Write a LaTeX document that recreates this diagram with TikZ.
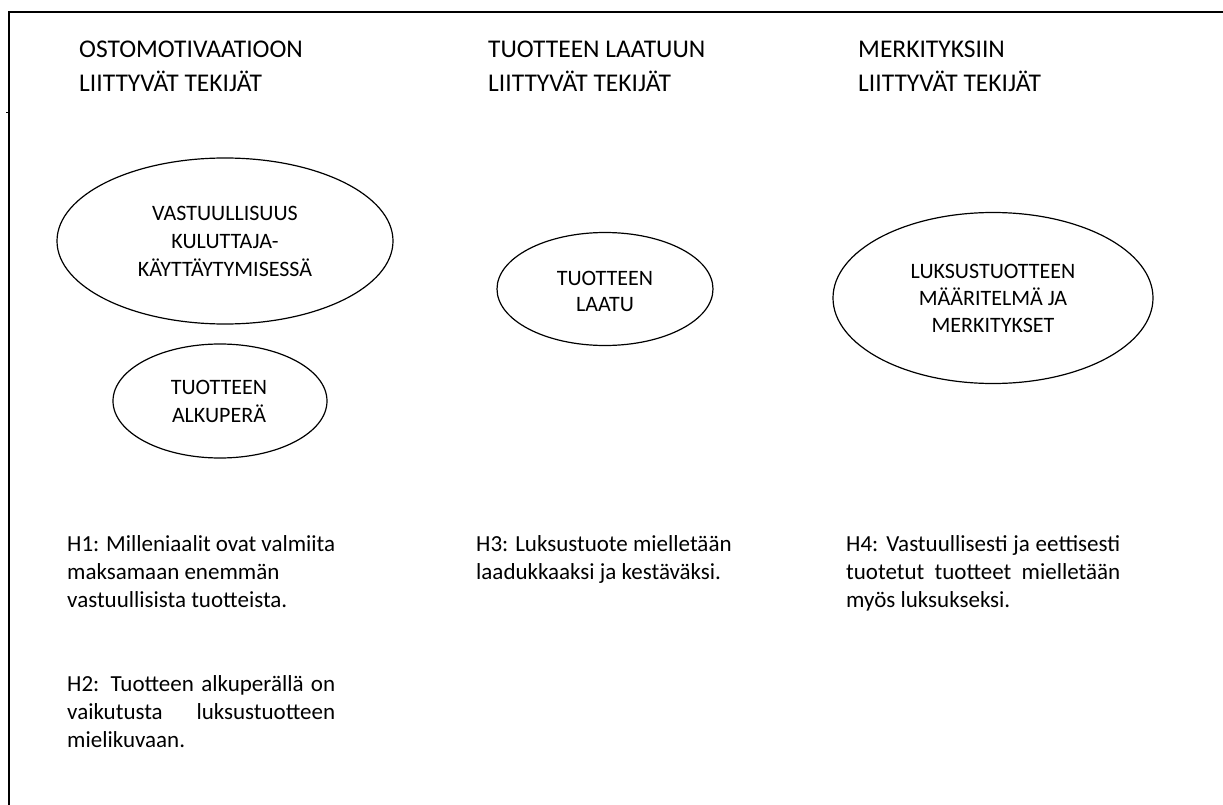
\documentclass[tikz,border=0pt]{standalone}
\usepackage{fontspec}
\setmainfont{Carlito}
\usetikzlibrary{shapes.geometric}
\tikzset{
  ell/.style={draw, ellipse, line width=1.2pt, inner sep=0pt},
  head/.style={anchor=base west, inner sep=0pt, font=\fontsize{25.5}{30}\selectfont},
  etext/.style={anchor=base, inner sep=0pt, font=\fontsize{22}{27}\selectfont},
  body/.style={anchor=base west, inner sep=0pt, font=\fontsize{23}{28}\selectfont},
}
\newcommand{\jline}[2]{\makebox[#1][s]{#2}}
\begin{document}
\begin{tikzpicture}[x=1pt,y=-1pt]
\useasboundingbox (0,0) rectangle (1223,805);
% frame (partly cut off)
\draw[line width=1.4pt] (9,805) -- (9,12) -- (1223,12);
\draw[line width=1pt] (6,113) -- (9,113);
% headings
\node[head] (h1a) at (79,58) {OSTOMOTIVAATIOON};
\node[head] (h1b) at (79,92) {LIITTYVÄT TEKIJÄT};
\node[head] (h2a) at (488,58) {TUOTTEEN LAATUUN};
\node[head] (h2b) at (488,92) {LIITTYVÄT TEKIJÄT};
\node[head] (h3a) at (858,58) {MERKITYKSIIN};
\node[head] (h3b) at (858,92) {LIITTYVÄT TEKIJÄT};
% ellipses
\node[ell, minimum width=336pt, minimum height=166pt] (e1) at (225,241) {};
\node[ell, minimum width=214pt, minimum height=114pt] (e2) at (220,401) {};
\node[ell, minimum width=216pt, minimum height=113pt] (e3) at (605,289) {};
\node[ell, minimum width=320pt, minimum height=171pt] (e4) at (993,298) {};
% ellipse texts
\node[etext] (e1a) at (225,221) {VASTUULLISUUS};
\node[etext] (e1b) at (225,248) {KULUTTAJA-};
\node[etext] (e1c) at (225,276) {KÄYTTÄYTYMISESSÄ};
\node[etext] (e2a) at (219,394) {TUOTTEEN};
\node[etext] (e2b) at (219,422) {ALKUPERÄ};
\node[etext] (e3a) at (605,285) {TUOTTEEN};
\node[etext] (e3b) at (605,311) {LAATU};
\node[etext] (e4a) at (993,278) {LUKSUSTUOTTEEN};
\node[etext] (e4b) at (993,305) {MÄÄRITELMÄ JA};
\node[etext] (e4c) at (993,332) {MERKITYKSET};
% hypotheses
\node[body] (t1a) at (67,551) {\jline{268pt}{H1: Milleniaalit ovat valmiita}};
\node[body] (t1b) at (67,579) {maksamaan enemmän};
\node[body] (t1c) at (67,607) {vastuullisista tuotteista.};
\node[body] (t2a) at (67,691) {\jline{268pt}{H2: Tuotteen alkuperällä on}};
\node[body] (t2b) at (67,719) {\jline{268pt}{vaikutusta luksustuotteen}};
\node[body] (t2c) at (67,747) {mielikuvaan.};
\node[body] (t3a) at (476,551) {H3: Luksustuote mielletään};
\node[body] (t3b) at (476,579) {laadukkaaksi ja kestäväksi.};
\node[body] (t4a) at (846,551) {\jline{274pt}{H4: Vastuullisesti ja eettisesti}};
\node[body] (t4b) at (846,579) {\jline{274pt}{tuotetut tuotteet mielletään}};
\node[body] (t4c) at (846,607) {myös luksukseksi.};
\end{tikzpicture}
\end{document}
